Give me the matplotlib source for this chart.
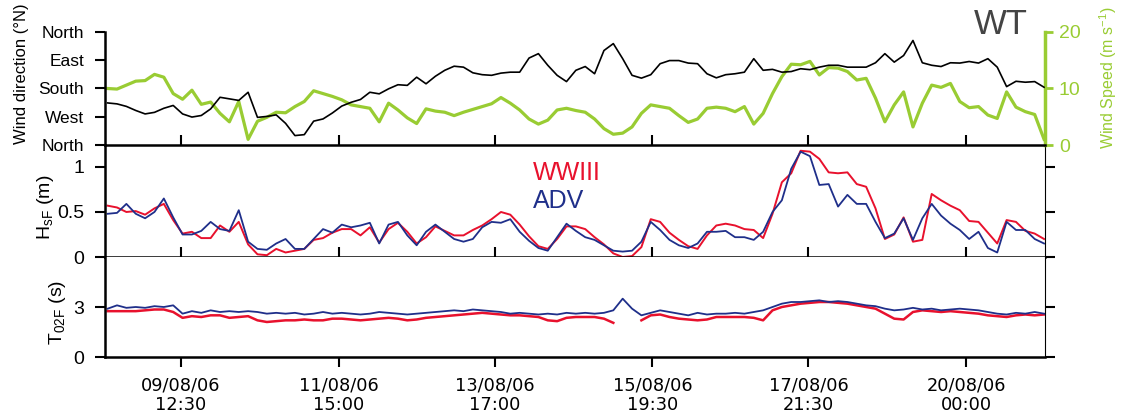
import numpy as np
import pandas as pd
import matplotlib
matplotlib.use("Agg")
import matplotlib.pyplot as plt

# ---------------- data ----------------
times = pd.date_range("2006-08-08 13:00", periods=101, freq="3h")

wind_dir = [226, 229, 237, 250, 261, 256, 243, 234, 261, 271,
            266, 245, 208, 213, 218, 192, 272, 269, 264, 291,
            330, 327, 284, 277, 258, 236, 224, 215, 192, 197,
            181, 168, 170, 144, 165, 141, 122, 109, 112, 130,
            136, 138, 131, 128, 128, 83, 69, 106, 138, 158,
            122, 110, 133, 59, 37, 85, 138, 147, 136, 101,
            91, 91, 99, 101, 133, 146, 136, 133, 128, 85,
            122, 119, 128, 126, 117, 120, 112, 106, 106, 112,
            112, 112, 98, 69, 96, 75, 27, 98, 106, 110,
            98, 99, 94, 99, 85, 112, 174, 157, 160, 158, 176]

wind_speed = [10.0, 9.9, 10.6, 11.3, 11.4, 12.5, 12.0, 9.1, 8.1, 9.7,
              7.2, 7.6, 5.6, 4.1, 7.7, 1.0, 4.2, 4.9, 5.8, 5.7,
              6.8, 7.7, 9.6, 9.1, 8.6, 8.0, 7.1, 6.8, 6.5, 4.1,
              7.4, 6.2, 4.8, 3.8, 6.4, 6.0, 5.8, 5.2, 5.8, 6.3,
              6.8, 7.3, 8.4, 7.4, 6.2, 4.6, 3.7, 4.4, 6.2, 6.5,
              6.1, 5.8, 4.6, 2.9, 1.9, 2.1, 3.2, 5.6, 7.1, 6.8,
              6.5, 5.2, 4.0, 4.6, 6.5, 6.7, 6.5, 5.9, 6.8, 3.7,
              5.6, 9.1, 12.1, 14.3, 14.2, 14.8, 12.4, 13.7, 13.6, 13.0,
              11.5, 11.8, 8.3, 4.1, 7.1, 9.4, 3.2, 7.4, 10.6, 10.2,
              10.9, 7.7, 6.6, 6.8, 5.3, 4.7, 9.4, 6.7, 5.9, 5.4, 1.0]

hs_ww3 = [0.57, 0.55, 0.50, 0.51, 0.47, 0.54, 0.59, 0.41, 0.26, 0.28,
          0.21, 0.21, 0.35, 0.28, 0.39, 0.14, 0.03, 0.02, 0.09, 0.05,
          0.07, 0.09, 0.19, 0.21, 0.27, 0.31, 0.31, 0.24, 0.33, 0.16,
          0.31, 0.38, 0.28, 0.15, 0.22, 0.34, 0.29, 0.24, 0.24, 0.30,
          0.35, 0.42, 0.50, 0.47, 0.36, 0.23, 0.12, 0.09, 0.20, 0.34,
          0.34, 0.31, 0.22, 0.14, 0.04, 0.00, 0.01, 0.11, 0.42, 0.39,
          0.27, 0.19, 0.12, 0.09, 0.24, 0.35, 0.37, 0.35, 0.31, 0.30,
          0.21, 0.48, 0.83, 0.93, 1.18, 1.17, 1.09, 0.94, 0.93, 0.94,
          0.81, 0.78, 0.54, 0.20, 0.25, 0.44, 0.17, 0.19, 0.70, 0.63,
          0.57, 0.52, 0.40, 0.39, 0.27, 0.15, 0.41, 0.39, 0.29, 0.26, 0.20]

hs_adv = [0.48, 0.49, 0.59, 0.48, 0.43, 0.50, 0.65, 0.44, 0.25, 0.25,
          0.29, 0.39, 0.31, 0.29, 0.52, 0.17, 0.09, 0.08, 0.15, 0.20,
          0.09, 0.09, 0.20, 0.31, 0.27, 0.36, 0.33, 0.35, 0.38, 0.15,
          0.36, 0.39, 0.24, 0.13, 0.28, 0.36, 0.28, 0.20, 0.17, 0.20,
          0.33, 0.39, 0.38, 0.42, 0.28, 0.18, 0.10, 0.07, 0.22, 0.37,
          0.29, 0.22, 0.19, 0.13, 0.07, 0.06, 0.07, 0.17, 0.39, 0.30,
          0.19, 0.13, 0.10, 0.15, 0.28, 0.28, 0.29, 0.22, 0.22, 0.19,
          0.28, 0.50, 0.63, 0.98, 1.17, 1.12, 0.80, 0.81, 0.56, 0.69,
          0.59, 0.59, 0.39, 0.21, 0.26, 0.43, 0.19, 0.43, 0.59, 0.46,
          0.37, 0.30, 0.20, 0.28, 0.10, 0.05, 0.39, 0.30, 0.30, 0.20, 0.15]

t02_ww3 = [2.75, 2.75, 2.75, 2.75, 2.8, 2.85, 2.85, 2.7, 2.35, 2.45,
           2.4, 2.5, 2.5, 2.35, 2.4, 2.45, 2.2, 2.1, 2.15, 2.2,
           2.2, 2.25, 2.2, 2.2, 2.3, 2.3, 2.25, 2.2, 2.25, 2.3,
           2.35, 2.3, 2.2, 2.25, 2.35, 2.4, 2.45, 2.5, 2.55, 2.6,
           2.65, 2.6, 2.55, 2.5, 2.5, 2.45, 2.4, 2.2, 2.15, 2.35,
           2.4, 2.4, 2.4, 2.3, 2.05, np.nan, np.nan, 2.2, 2.5, 2.55,
           2.4, 2.3, 2.25, 2.2, 2.25, 2.4, 2.4, 2.4, 2.4, 2.35,
           2.2, 2.8, 3.0, 3.1, 3.2, 3.25, 3.3, 3.3, 3.25, 3.2,
           3.1, 3.0, 2.9, 2.6, 2.3, 2.25, 2.7, 2.8, 2.75, 2.7,
           2.75, 2.7, 2.65, 2.6, 2.5, 2.45, 2.4, 2.5, 2.55, 2.5, 2.55]

t02_adv = [2.9, 3.1, 2.95, 3.0, 2.95, 3.05, 3.0, 3.1, 2.6, 2.75,
           2.65, 2.8, 2.7, 2.75, 2.7, 2.75, 2.7, 2.6, 2.65, 2.6,
           2.65, 2.55, 2.6, 2.7, 2.6, 2.65, 2.6, 2.55, 2.6, 2.7,
           2.65, 2.6, 2.55, 2.6, 2.65, 2.7, 2.75, 2.8, 2.75, 2.85,
           2.8, 2.75, 2.7, 2.6, 2.65, 2.6, 2.55, 2.6, 2.55, 2.65,
           2.6, 2.65, 2.6, 2.65, 2.8, 3.5, 2.9, 2.5, 2.65, 2.8,
           2.7, 2.6, 2.5, 2.65, 2.55, 2.6, 2.6, 2.65, 2.6, 2.7,
           2.8, 3.0, 3.2, 3.3, 3.3, 3.35, 3.4, 3.3, 3.35, 3.3,
           3.2, 3.1, 3.05, 2.9, 2.8, 2.85, 2.95, 2.85, 2.9, 2.8,
           2.85, 2.9, 2.85, 2.8, 2.7, 2.6, 2.55, 2.65, 2.6, 2.7, 2.6]

dir_ticks = [0, 90, 180, 270, 360]
dir_labels = ["North", "East", "South", "West", "North"]
date_ticks = ["2006-08-09 12:30", "2006-08-11 15:00", "2006-08-13 17:00",
              "2006-08-15 19:30", "2006-08-17 21:30", "2006-08-20 00:00"]
date_labels = ["09/08/06\n12:30", "11/08/06\n15:00", "13/08/06\n17:00",
               "15/08/06\n19:30", "17/08/06\n21:30", "20/08/06\n00:00"]

# ---------------- style ----------------
GREEN = "#99cc33"
RED = "#e8112d"
NAVY = "#1f2f8a"
plt.rcParams["font.family"] = ["Liberation Sans", "DejaVu Sans"]
plt.rcParams["font.size"] = 12.5

fig = plt.figure(figsize=(11.25, 4.19), dpi=100)
L, W = 105 / 1125, 940 / 1125
H = 419
ax1 = fig.add_axes([L, 1 - 145 / H, W, 113 / H])
ax2 = fig.add_axes([L, 1 - 257 / H, W, 112 / H], sharex=ax1)
ax3 = fig.add_axes([L, 1 - 357 / H, W, 100 / H], sharex=ax1)

xmin = pd.Timestamp("2006-08-08 12:09")
xmax = pd.Timestamp("2006-08-21 01:18")
dticks = pd.to_datetime(date_ticks)

# ---- top panel ----
ax1.plot(times, wind_dir, color="black", lw=1.2, zorder=3)
ax1.set_ylim(360, 0)
ax1.set_yticks(dir_ticks)
ax1.set_yticklabels(dir_labels)
ax1.spines["top"].set_visible(False)
ax1.spines["right"].set_visible(False)
for s in ["left", "bottom"]:
    ax1.spines[s].set_linewidth(1.8)
ax1.tick_params(axis="y", direction="out", length=7, width=1.5, pad=8)
ax1.tick_params(axis="x", direction="in", length=7, width=1.5, labelbottom=False)

axr = ax1.twinx()
axr.plot(times, wind_speed, color=GREEN, lw=2.3, zorder=2)
axr.set_ylim(0, 20)
axr.set_yticks([0, 10, 20])
axr.spines["top"].set_visible(False)
axr.spines["left"].set_visible(False)
axr.spines["bottom"].set_visible(False)
axr.spines["right"].set_color(GREEN)
axr.spines["right"].set_linewidth(2.5)
axr.tick_params(axis="y", colors=GREEN, direction="out", length=6, width=2,
                labelsize=14, pad=4)
ax1.set_zorder(axr.get_zorder() + 1)
ax1.patch.set_visible(False)

# ---- middle panel ----
ax2.plot(times, hs_ww3, color=RED, lw=1.4)
ax2.plot(times, hs_adv, color=NAVY, lw=1.3)
ax2.set_ylim(0, 1.244)
ax2.set_yticks([0, 0.5, 1])
ax2.set_yticklabels(["0", "0.5", "1"])
ax2.spines["top"].set_visible(False)
ax2.spines["left"].set_linewidth(1.8)
ax2.spines["bottom"].set_linewidth(1.8)
ax2.spines["right"].set_linewidth(0.8)
ax2.tick_params(axis="y", direction="out", length=7, width=1.5, labelsize=14,
                right=True, pad=8)
ax2.tick_params(axis="x", direction="in", length=7, width=1.5, labelbottom=False)
ax2.text(0.455, 0.75, "WWIII", transform=ax2.transAxes, color=RED,
         fontsize=18, ha="left", va="center")
ax2.text(0.455, 0.50, "ADV", transform=ax2.transAxes, color=NAVY,
         fontsize=18, ha="left", va="center")

# ---- bottom panel ----
ax3.plot(times, t02_ww3, color=RED, lw=1.8)
ax3.plot(times, t02_adv, color=NAVY, lw=1.3)
ax3.set_ylim(0, 6)
ax3.set_yticks([0, 3])
ax3.spines["top"].set_visible(False)
ax3.spines["left"].set_linewidth(1.8)
ax3.spines["bottom"].set_linewidth(1.8)
ax3.spines["right"].set_linewidth(0.8)
ax3.tick_params(axis="y", direction="out", length=7, width=1.5, labelsize=14,
                right=True, pad=8)
ax3.tick_params(axis="x", direction="out", length=7, width=1.5, pad=7)

ax3.set_xlim(xmin, xmax)
ax3.set_xticks(dticks)
ax3.set_xticklabels(date_labels, fontsize=12.8, linespacing=1.1)
for lab in ax3.get_xticklabels():
    lab.set_fontfamily("DejaVu Sans")

# ---- labels ----
fig.text(22 / 1125, 1 - 74 / H, "Wind direction (°N)", rotation=90,
         ha="center", va="center", fontsize=12)
fig.text(45 / 1125, 1 - 207 / H, r"H$_{\mathregular{sF}}$ (m)", rotation=90,
         ha="center", va="center", fontsize=14)
fig.text(57 / 1125, 1 - 312 / H, r"T$_{\mathregular{02F}}$ (s)", rotation=90,
         ha="center", va="center", fontsize=14)
fig.text(1108 / 1125, 1 - 78 / H, r"Wind Speed (m s$^{\mathregular{-1}}$)",
         rotation=90, ha="center", va="center", fontsize=11.5, color=GREEN)
fig.text(1001 / 1125, 1 - 24 / H, "WT", ha="center", va="center",
         fontsize=25, color="#444444")

fig.savefig("out.png", dpi=100)
